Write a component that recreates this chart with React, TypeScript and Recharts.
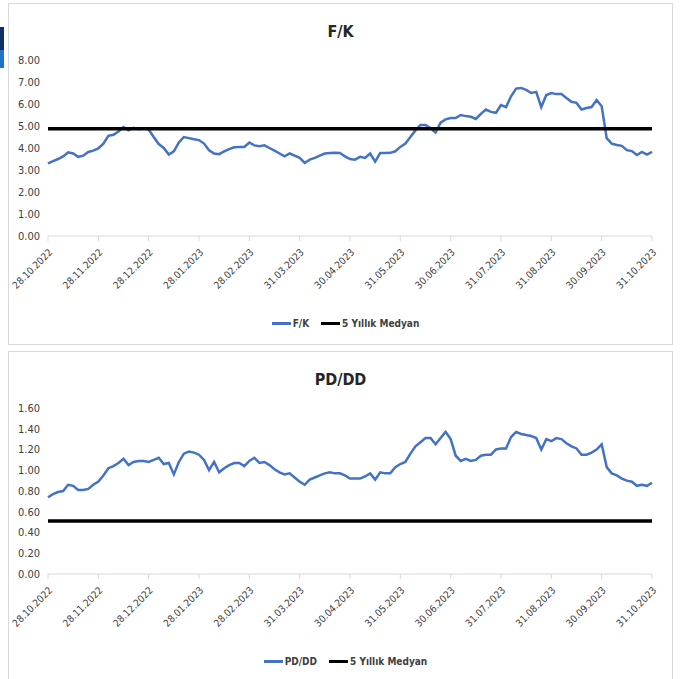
import { LineChart, Line, XAxis, YAxis, Legend } from "recharts";

// x ekseni etiketleri (her 10 noktada bir)
const TICK_LABELS = [
  "28.10.2022",
  "28.11.2022",
  "28.12.2022",
  "28.01.2023",
  "28.02.2023",
  "31.03.2023",
  "30.04.2023",
  "31.05.2023",
  "30.06.2023",
  "31.07.2023",
  "31.08.2023",
  "30.09.2023",
  "31.10.2023",
];
const TICK_INDEXES = [0, 10, 20, 30, 40, 50, 60, 70, 80, 90, 100, 110, 120];

const FK_VALUES = [
  3.3, 3.4, 3.5, 3.62, 3.8, 3.75, 3.6, 3.65, 3.82, 3.88,
  3.98, 4.2, 4.55, 4.6, 4.75, 4.95, 4.8, 4.92, 4.85, 4.9,
  4.84, 4.5, 4.18, 4.0, 3.7, 3.85, 4.25, 4.5, 4.45, 4.4,
  4.36, 4.2, 3.9, 3.75, 3.72, 3.85, 3.95, 4.03, 4.05, 4.05,
  4.25, 4.12, 4.08, 4.12, 4.0, 3.88, 3.75, 3.62, 3.75, 3.65,
  3.55, 3.32, 3.47, 3.55, 3.65, 3.75, 3.77, 3.78, 3.77, 3.62,
  3.5, 3.47, 3.6, 3.55, 3.75, 3.38, 3.77, 3.77, 3.78, 3.85,
  4.05, 4.2, 4.5, 4.8, 5.05, 5.05, 4.9, 4.7, 5.15, 5.3,
  5.36, 5.36, 5.5, 5.45, 5.42, 5.32, 5.55, 5.75, 5.64, 5.6,
  5.95, 5.86, 6.35, 6.7, 6.73, 6.64, 6.5, 6.55, 5.86, 6.41,
  6.5, 6.45, 6.45, 6.27, 6.1, 6.05, 5.75, 5.82, 5.86, 6.18,
  5.9, 4.45, 4.2, 4.14, 4.1, 3.9, 3.86, 3.68, 3.82, 3.7,
  3.82,
];
const FK_MEDIAN = 4.87;
const FK_TICKS = [0, 1, 2, 3, 4, 5, 6, 7, 8];

const PDDD_VALUES = [
  0.74, 0.77, 0.79, 0.8, 0.86, 0.85, 0.81, 0.81, 0.82, 0.86,
  0.89, 0.95, 1.02, 1.04, 1.07, 1.11, 1.05, 1.08, 1.09, 1.09,
  1.08, 1.1, 1.12, 1.06, 1.07, 0.96, 1.08, 1.16, 1.18, 1.17,
  1.15, 1.1, 1.0, 1.08, 0.98, 1.02, 1.05, 1.07, 1.07, 1.04,
  1.09, 1.12, 1.07, 1.08, 1.05, 1.01, 0.98, 0.96, 0.97, 0.93,
  0.89, 0.86, 0.91, 0.93, 0.95, 0.97, 0.98, 0.97, 0.97, 0.95,
  0.92, 0.92, 0.92, 0.94, 0.97, 0.91, 0.98, 0.97, 0.97, 1.03,
  1.06, 1.08, 1.16, 1.23, 1.27, 1.31, 1.31, 1.25, 1.31, 1.37,
  1.3, 1.14, 1.09, 1.11, 1.09, 1.1, 1.14, 1.15, 1.15, 1.2,
  1.21, 1.21, 1.32, 1.37, 1.35, 1.34, 1.33, 1.31, 1.2, 1.3,
  1.28, 1.31, 1.3, 1.26, 1.23, 1.21, 1.15, 1.15, 1.17, 1.2,
  1.25, 1.03, 0.97, 0.95, 0.92, 0.9, 0.89, 0.85, 0.86, 0.85,
  0.88,
];
const PDDD_MEDIAN = 0.51;
const PDDD_TICKS = [0, 0.2, 0.4, 0.6, 0.8, 1.0, 1.2, 1.4, 1.6];

const MEDIAN_NAME = "5 Yıllık Medyan";

const FONT = "'DejaVu Sans Condensed', 'Liberation Sans Narrow', 'Liberation Sans', Arial, sans-serif";
const TEXT_COLOR = "#404040";
const BLUE = "#4472C4";

const DateTick = ({ x, y, payload }: any) => {
  const label = TICK_LABELS[TICK_INDEXES.indexOf(payload.value)];
  return (
    <g transform={`translate(${x + 5},${y + 10})`}>
      <text
        x={0}
        y={0}
        textAnchor="end"
        transform="rotate(-45)"
        fontSize={10}
        fontStretch="condensed"
        fontFamily={FONT}
        fill={TEXT_COLOR}
      >
        {label}
      </text>
    </g>
  );
};

const renderLegend = ({ payload }: any) => {
  // seri önce, medyan sonra
  const items = [...payload].sort(
    (a: any, b: any) => (a.value === MEDIAN_NAME ? 1 : 0) - (b.value === MEDIAN_NAME ? 1 : 0)
  );
  return (
    <div
      style={{
        height: 20,
        display: "flex",
        justifyContent: "center",
        alignItems: "center",
        fontFamily: FONT,
        fontStretch: "condensed",
        fontSize: 10,
        fontWeight: 600,
        color: TEXT_COLOR,
        paddingLeft: 42,
      }}
    >
      {items.map((p: any) => (
        <span
          key={p.value}
          style={{ display: "flex", alignItems: "center", marginRight: 12 }}
        >
          <span
            style={{
              display: "inline-block",
              width: 19,
              height: 3,
              background: p.color,
              marginRight: 2,
            }}
          />
          {p.value}
        </span>
      ))}
    </div>
  );
};

interface PanelProps {
  title: string;
  name: string;
  values: number[];
  median: number;
  ticks: number[];
  top: number;
  height: number;
}

function Panel({ title, name, values, median, ticks, top, height }: PanelProps) {
  const data = values.map((v, i) => ({ idx: i, value: v, median }));
  const chartH = height - 2;
  return (
    <div
      style={{
        position: "absolute",
        left: 8,
        top,
        width: 663,
        height: chartH,
        border: "1px solid #d9d9d9",
        background: "#fff",
      }}
    >
      <div
        style={{
          position: "absolute",
          left: 0,
          width: 663,
          top: 18,
          textAlign: "center",
          fontFamily: FONT,
          fontStretch: "condensed",
          fontWeight: 700,
          fontSize: 16,
          color: "#262626",
        }}
      >
        {title}
      </div>
      <LineChart
        width={663}
        height={chartH}
        data={data}
        margin={{ top: 56, right: 20, bottom: 11, left: 0 }}
      >
        <XAxis
          dataKey="idx"
          type="number"
          domain={[0, values.length - 1]}
          ticks={TICK_INDEXES}
          interval={0}
          height={77}
          tick={<DateTick />}
          tickSize={5}
          tickMargin={2}
          axisLine={{ stroke: "#d9d9d9" }}
          tickLine={{ stroke: "#d9d9d9" }}
        />
        <YAxis
          type="number"
          domain={[ticks[0], ticks[ticks.length - 1]]}
          ticks={ticks}
          interval={0}
          width={39}
          axisLine={false}
          tickLine={false}
          tickFormatter={(v: number) => v.toFixed(2)}
          tick={{ fontSize: 11, fontFamily: FONT, fill: TEXT_COLOR }}
        />
        <Legend verticalAlign="bottom" content={renderLegend} />
        <Line
          type="linear"
          dataKey="value"
          name={name}
          stroke={BLUE}
          strokeWidth={2.5}
          dot={false}
          isAnimationActive={false}
        />
        <Line
          type="linear"
          dataKey="median"
          name={MEDIAN_NAME}
          stroke="#000000"
          strokeWidth={3.5}
          dot={false}
          isAnimationActive={false}
        />
      </LineChart>
    </div>
  );
}

export default function App() {
  return (
    <div
      style={{
        position: "absolute",
        left: 0,
        top: 0,
        width: 689,
        height: 679,
        overflow: "hidden",
        background: "#fff",
      }}
    >
      <div style={{ position: "absolute", left: 0, top: 27, width: 4, height: 23, background: "#10306a" }} />
      <div style={{ position: "absolute", left: 0, top: 50, width: 4, height: 18, background: "#1f74c8" }} />
      <Panel
        title="F/K"
        name="F/K"
        values={FK_VALUES}
        median={FK_MEDIAN}
        ticks={FK_TICKS}
        top={3}
        height={342}
      />
      <Panel
        title="PD/DD"
        name="PD/DD"
        values={PDDD_VALUES}
        median={PDDD_MEDIAN}
        ticks={PDDD_TICKS}
        top={351}
        height={332}
      />
    </div>
  );
}
